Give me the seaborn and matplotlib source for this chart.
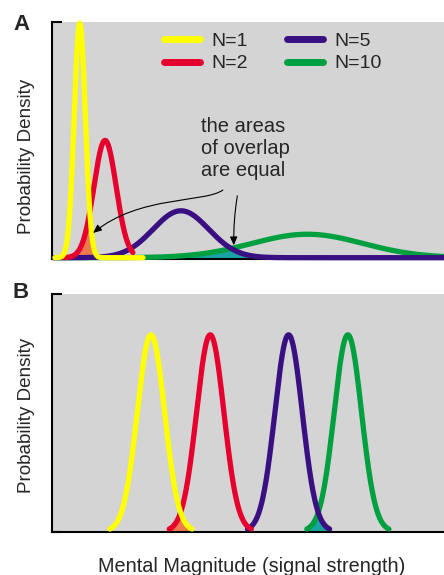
import matplotlib
matplotlib.use("Agg")
import matplotlib.pyplot as plt
import numpy as np
import pandas as pd
import seaborn as sns
from matplotlib.patches import FancyArrowPatch
from matplotlib.path import Path

sns.set_style("white", {"axes.facecolor": "#d4d4d4", "axes.edgecolor": "black"})
plt.rcParams["font.family"] = ["Liberation Sans", "DejaVu Sans"]

# values
labels = ["N=1", "N=2", "N=5", "N=10"]
magnitudes = [1, 2, 5, 10]
colours = ["#ffff00", "#e6002d", "#3a0f82", "#00a040"]
weber = 0.22                       # panel A: sd grows with N (scalar variability)
log_sd = 0.16                      # panel B: constant sd on a log axis
a_start = [0.02, 0.4, 0.0, 0.0]    # x range over which each curve is drawn (panel A)
a_stop = [3.5, 3.1, 15.4, 15.4]
b_span = 3.0                       # panel B curves drawn to +-3 sd
overlap_pairs = [(0, 1), (2, 3)]
overlap_colours = ["#f07a50", "#1aa3a3"]


def normal_pdf(x, mu, sd):
    return np.exp(-0.5 * ((x - mu) / sd) ** 2) / (sd * np.sqrt(2 * np.pi))


def curves_a():
    frames = []
    for lab, n, x0, x1 in zip(labels, magnitudes, a_start, a_stop):
        x = np.linspace(x0, x1, 600)
        frames.append(pd.DataFrame({"x": x, "density": normal_pdf(x, n, weber * n), "label": lab}))
    return pd.concat(frames, ignore_index=True)


def curves_b():
    frames = []
    for lab, n in zip(labels, magnitudes):
        mu = np.log(n)
        x = np.linspace(mu - b_span * log_sd, mu + b_span * log_sd, 300)
        frames.append(pd.DataFrame({"x": x, "density": normal_pdf(x, mu, log_sd), "label": lab}))
    return pd.concat(frames, ignore_index=True)


def draw_panel(ax, df, mus, sds):
    # shaded overlap between neighbouring curves
    for (i, j), col in zip(overlap_pairs, overlap_colours):
        lo = max(mus[i] - 3 * sds[i], mus[j] - 3 * sds[j])
        hi = min(mus[i] + 3 * sds[i], mus[j] + 3 * sds[j])
        if hi > lo:
            x = np.linspace(lo, hi, 300)
            y = np.minimum(normal_pdf(x, mus[i], sds[i]), normal_pdf(x, mus[j], sds[j]))
            ax.fill_between(x, 0, y, color=col, lw=0, zorder=1)
    # draw big N first so the small ones sit on top
    for k in reversed(range(len(labels))):
        sub = df[df["label"] == labels[k]]
        sns.lineplot(data=sub, x="x", y="density", color=colours[k], lw=3.8,
                     label=labels[k], ax=ax, zorder=3 + (len(labels) - k),
                     clip_on=False, legend=False)
    ax.set_xlabel("")
    ax.set_ylabel("Probability Density", fontsize=13.6)
    ax.set_xticks([])
    lo, hi = ax.get_ylim()
    ax.set_yticks([lo, hi])
    ax.set_yticklabels([])
    ax.tick_params(axis="y", direction="in", length=7, width=1.5, color="black", left=True)
    for s in ("top", "right"):
        ax.spines[s].set_visible(False)
    for s in ("left", "bottom"):
        ax.spines[s].set_linewidth(1.5)
        ax.spines[s].set_color("black")


fig = plt.figure(figsize=(4.44, 5.75), dpi=100)
ax_a = fig.add_axes([0.117, 0.5496, 0.883, 0.4122])
ax_b = fig.add_axes([0.117, 0.0748, 0.883, 0.4139])

# ---- panel A: linear axis, scalar variability
sds_a = [weber * n for n in magnitudes]
ax_a.set_xlim(-0.1, 15.4)
ax_a.set_ylim(-0.01, normal_pdf(0, 0, sds_a[0]) * 1.005)
draw_panel(ax_a, curves_a(), magnitudes, sds_a)
ax_a.yaxis.set_label_coords(-0.043, 0.435)

handles, labs = ax_a.get_legend_handles_labels()
order = [labs.index(l) for l in labels]
leg = ax_a.legend([handles[i] for i in order], labels, ncol=2, loc="upper left",
                  bbox_to_anchor=(0.24, 1.03), frameon=False, fontsize=14,
                  handlelength=1.85, columnspacing=2.0, labelspacing=0.25,
                  handletextpad=0.6)
for h in leg.get_lines():
    h.set_linewidth(5)

ax_a.text(0.380, 0.597, "the areas\nof overlap\nare equal", transform=ax_a.transAxes,
          ha="left", va="top", fontsize=14.5, linespacing=1.2)
bend = Path([(0.436, 0.291), (0.390, 0.236), (0.224, 0.270), (0.105, 0.110)],
            [Path.MOVETO, Path.CURVE4, Path.CURVE4, Path.CURVE4])
ax_a.add_patch(FancyArrowPatch(path=bend, transform=ax_a.transAxes,
                               arrowstyle="-|>,head_length=5,head_width=2.2",
                               color="black", lw=0.8, zorder=10))
ax_a.annotate("", xy=(0.464, 0.046), xytext=(0.474, 0.278), xycoords="axes fraction",
              arrowprops=dict(arrowstyle="-|>,head_length=0.5,head_width=0.22",
                              connectionstyle="arc3,rad=0.05", color="black", lw=0.8),
              zorder=10)

# ---- panel B: logarithmic axis, constant variability
mus_b = [np.log(n) for n in magnitudes]
sds_b = [log_sd] * len(magnitudes)
ax_b.set_xlim(-1.158, 3.427)
ax_b.set_ylim(-0.01, normal_pdf(0, 0, log_sd) / 0.828)
draw_panel(ax_b, curves_b(), mus_b, sds_b)
ax_b.yaxis.set_label_coords(-0.043, 0.49)
ax_b.set_xlabel("Mental Magnitude (signal strength)", fontsize=14.3)
ax_b.xaxis.set_label_coords(0.51, -0.105)

fig.text(21 / 444, 1 - 24 / 575, "A", fontsize=16, fontweight="bold", ha="center", va="center")
fig.text(21 / 444, 1 - 292 / 575, "B", fontsize=16, fontweight="bold", ha="center", va="center")

fig.savefig("out.png", dpi=100)
